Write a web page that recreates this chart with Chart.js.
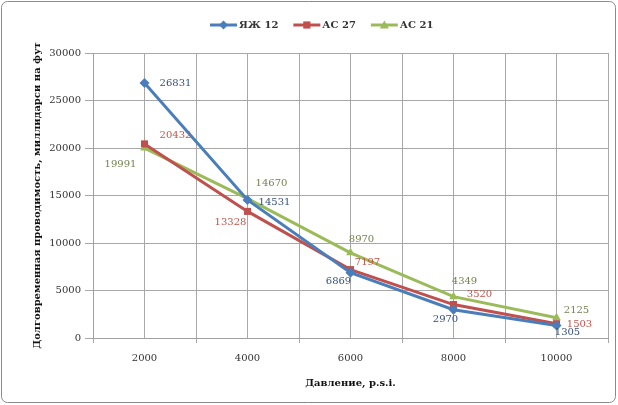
<!DOCTYPE html>
<html>
<head>
<meta charset="utf-8">
<script src="https://cdn.jsdelivr.net/npm/chart.js@4"></script>
<style>
  html, body { margin: 0; padding: 0; background: #fff; }
  #wrap { position: relative; width: 618px; height: 405px; }
</style>
</head>
<body>
<div id="wrap"><canvas id="c" width="618" height="405"></canvas></div>
<script>
// Pressure steps, psi
const pressures = [2000, 4000, 6000, 8000, 10000];
// Long-term conductivity, mD·ft
const yak12 = [26831, 14531, 6869, 2970, 1305];
const ac27  = [20432, 13328, 7197, 3520, 1503];
const ac21  = [19991, 14670, 8970, 4349, 2125];
const seriesNames = ['ЯЖ 12', 'АС 27', 'АС 21'];
const yTicks = [0, 5000, 10000, 15000, 20000, 25000, 30000];

const SERIF = '"DejaVu Serif", "Liberation Serif", serif';

function toPoints(vals) {
  return pressures.map((p, i) => ({ x: p, y: vals[i] }));
}

// Where each value label sits relative to its point
const labelShift = [
  [[31, 0], [27, 2], [-12, 9], [-8, 10], [11, 7]],
  [[31, -8], [-17, 11], [17, -7], [26, -10], [23, 1]],
  [[-24, 16], [24, -15], [11, -13], [11, -15], [20, -7]]
];
const labelColors = ['#34507e', '#c4544a', '#74834e'];

const valueLabels = {
  id: 'valueLabels',
  afterDatasetsDraw(chart) {
    const ctx = chart.ctx;
    ctx.save();
    ctx.font = '10px ' + SERIF;
    ctx.textAlign = 'center';
    ctx.textBaseline = 'middle';
    chart.data.datasets.forEach((ds, i) => {
      const meta = chart.getDatasetMeta(i);
      ctx.fillStyle = labelColors[i];
      meta.data.forEach((pt, j) => {
        const s = labelShift[i][j];
        ctx.fillText(String(ds.data[j].y), pt.x + s[0], pt.y + s[1]);
      });
    });
    ctx.restore();
  }
};

function drawMarker(ctx, style, x, y, r, color) {
  ctx.fillStyle = color;
  ctx.beginPath();
  if (style === 'rectRot') {
    ctx.moveTo(x, y - r); ctx.lineTo(x + r, y); ctx.lineTo(x, y + r); ctx.lineTo(x - r, y);
  } else if (style === 'rect') {
    ctx.rect(x - r * 0.8, y - r * 0.8, r * 1.6, r * 1.6);
  } else {
    ctx.moveTo(x, y - r); ctx.lineTo(x + r, y + r * 0.8); ctx.lineTo(x - r, y + r * 0.8);
  }
  ctx.closePath();
  ctx.fill();
}

// Line-and-marker legend across the top, plus the outer frame
const topLegend = {
  id: 'topLegend',
  afterDraw(chart) {
    const ctx = chart.ctx;
    ctx.save();
    let x = 210;
    const y = 25;
    ctx.font = 'bold 10px ' + SERIF;
    ctx.textBaseline = 'middle';
    ctx.textAlign = 'left';
    chart.data.datasets.forEach(ds => {
      ctx.strokeStyle = ds.borderColor;
      ctx.lineWidth = 3;
      ctx.beginPath(); ctx.moveTo(x, y); ctx.lineTo(x + 27, y); ctx.stroke();
      drawMarker(ctx, ds.pointStyle, x + 13.5, y, 4.5, ds.borderColor);
      ctx.fillStyle = '#333';
      ctx.fillText(ds.label, x + 29, y);
      x += 29 + ctx.measureText(ds.label).width + 15;
    });
    ctx.strokeStyle = '#8a8a8a';
    ctx.lineWidth = 1;
    ctx.beginPath();
    ctx.roundRect(1.5, 1.5, 614, 401, 6);
    ctx.stroke();
    ctx.restore();
  }
};

new Chart(document.getElementById('c'), {
  type: 'line',
  data: {
    datasets: [
      { label: seriesNames[0], data: toPoints(yak12), borderColor: '#4a7ebb', backgroundColor: '#4a7ebb',
        pointStyle: 'rectRot', pointRadius: 5 },
      { label: seriesNames[1], data: toPoints(ac27), borderColor: '#c0504d', backgroundColor: '#c0504d',
        pointStyle: 'rect', pointRadius: 5 },
      { label: seriesNames[2], data: toPoints(ac21), borderColor: '#9bbb59', backgroundColor: '#9bbb59',
        pointStyle: 'triangle', pointRadius: 5 }
    ]
  },
  options: {
    responsive: false,
    animation: false,
    layout: { padding: { top: 53, right: 10, left: 0, bottom: 0 } },
    elements: { line: { borderWidth: 3, tension: 0 }, point: { borderWidth: 0 } },
    plugins: { legend: { display: false }, tooltip: { enabled: false } },
    scales: {
      x: {
        type: 'linear',
        min: 1000, max: 11000,
        afterFit(scale) { scale.height = 67; },
        ticks: {
          stepSize: 1000,
          padding: 9,
          color: '#333',
          font: { family: SERIF, size: 10 },
          maxRotation: 0,
          autoSkip: false,
          callback(v) { return pressures.includes(v) ? String(v) : ''; }
        },
        grid: {
          color: '#a8a8a8',
          tickLength: 5,
          tickColor(c) { return pressures.includes(c.tick && c.tick.value) ? 'rgba(0,0,0,0)' : '#a8a8a8'; }
        },
        border: { color: '#a0a0a0' },
        title: {
          display: true,
          text: 'Давление, p.s.i.',
          color: '#111',
          font: { family: SERIF, size: 10, weight: 'bold' },
          padding: { top: 0, bottom: 16 }
        }
      },
      y: {
        min: 0, max: 30000,
        afterFit(scale) { scale.width = 93; },
        afterBuildTicks(scale) { scale.ticks = yTicks.map(v => ({ value: v })); },
        ticks: {
          padding: 4,
          color: '#333',
          font: { family: SERIF, size: 10 },
          callback(v) { return String(v); }
        },
        grid: { color: '#a8a8a8', tickLength: 8 },
        border: { color: '#a0a0a0' },
        title: {
          display: true,
          text: 'Долговременная проводимость, миллидарси на фут',
          color: '#111',
          font: { family: SERIF, size: 10, weight: 'bold' },
          padding: { top: 31, bottom: 0 }
        }
      }
    }
  },
  plugins: [valueLabels, topLegend]
});
</script>
</body>
</html>
